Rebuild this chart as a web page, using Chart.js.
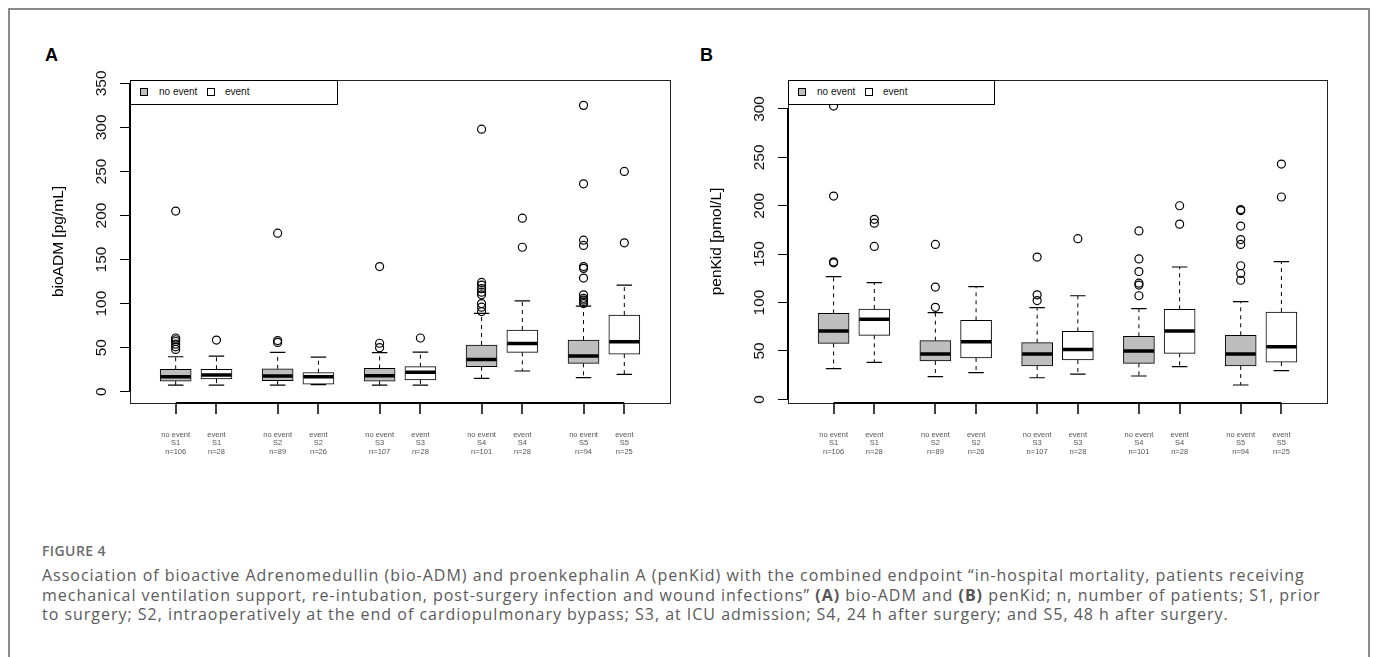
<!DOCTYPE html>
<html>
<head>
<meta charset="utf-8">
<script src="https://cdn.jsdelivr.net/npm/chart.js@4.4.0/dist/chart.umd.min.js"></script>
<style>
  body { margin: 0; background: #fff; width: 1373px; height: 657px; overflow: hidden; position: relative; font-family: "Liberation Sans", Arial, sans-serif; }
  .frame { position: absolute; left: 8px; top: 8px; width: 1358px; height: 700px; border: 2px solid #8c8c8c; border-bottom: none; }
  .letter { position: absolute; font: bold 18px "Liberation Sans", Arial, sans-serif; color: #000; }
  canvas { position: absolute; }
  .legend { position: absolute; top: 80px; height: 25px; border: 1.5px solid #000; background: #fff; box-sizing: border-box; font-size: 10px; color: #111; }
  .legend span { position: absolute; top: 5px; }
  .legend .sw { top: 7px; width: 6px; height: 6px; border: 1px solid #000; }
  .capt { position: absolute; left: 42px; top: 543px; font: 600 14px/16px "Open Sans", sans-serif; letter-spacing: 0.4px; color: #6b6b6b; }
  .cap { position: absolute; left: 42px; top: 566px; font: 16px/19.5px "Open Sans", sans-serif; letter-spacing: 0.98px; color: #5a5a5a; white-space: nowrap; }
  .cap b { font-weight: 700; color: #555; }
</style>
</head>
<body>
<div class="frame"></div>
<div class="letter" style="left:45px;top:45px">A</div>
<div class="letter" style="left:700px;top:45px">B</div>
<canvas id="chartA" width="640" height="403" style="left:40px;top:60px"></canvas>
<canvas id="chartB" width="639" height="403" style="left:698px;top:60px"></canvas>
<div class="legend" style="left:130px;width:208px">
  <span class="sw" style="left:9px;background:#bebebe"></span><span style="left:28px">no event</span>
  <span class="sw" style="left:76px;background:#fff"></span><span style="left:94px">event</span>
</div>
<div class="legend" style="left:788px;width:207px">
  <span class="sw" style="left:9px;background:#bebebe"></span><span style="left:28px">no event</span>
  <span class="sw" style="left:76px;background:#fff"></span><span style="left:94px">event</span>
</div>
<div class="capt">FIGURE 4</div>
<div class="cap">Association of bioactive Adrenomedullin (bio-ADM) and proenkephalin A (penKid) with the combined endpoint “in-hospital mortality, patients receiving<br>mechanical ventilation support, re-intubation, post-surgery infection and wound infections” <b>(A)</b> bio-ADM and <b>(B)</b> penKid; n, number of patients; S1, prior<br>to surgery; S2, intraoperatively at the end of cardiopulmonary bypass; S3, at ICU admission; S4, 24 h after surgery; and S5, 48 h after surgery.</div>

<script>
const stages = ['S1', 'S2', 'S3', 'S4', 'S5'];
const groupNames = ['no event', 'event'];
const nNoEvent = [106, 89, 107, 101, 94];
const nEvent = [28, 26, 28, 28, 25];

// per stage: [lower whisker, Q1, median, Q3, upper whisker]
const admNoEvent = [[7.6, 12.1, 17, 25.4, 39.7], [7.6, 12.5, 17.8, 26, 44.6], [7.6, 12.1, 18.2, 26.5, 44.3], [15.2, 28.4, 36.7, 53, 88.9], [15.9, 32.2, 40.5, 58.6, 97.2]];
const admEvent = [[7.6, 14.4, 18.9, 25.4, 40.5], [8, 8.5, 17, 21.6, 39.3], [7.6, 13.3, 22, 28.4, 45], [23.5, 44.6, 54.8, 70, 103.2], [19.7, 42.7, 56.7, 87, 121]];
const admNoEventOut = [[48, 51, 54, 57, 59, 61, 205], [56, 58, 180], [50, 55, 142], [91, 96, 100, 110, 113, 117, 121, 124, 298], [100, 102, 104, 106, 110, 129, 140, 142, 166, 172, 236, 325]];
const admEventOut = [[58.6], [], [61], [164, 197], [169, 250]];

const kidNoEvent = [[31.7, 57.8, 70.6, 88.8, 126.7], [23.4, 39.6, 46.8, 60.6, 89.5], [22.3, 34.4, 46.8, 58.5, 94.7], [24.1, 37.2, 49.9, 65.1, 93.6], [14.8, 34.4, 46.8, 66.1, 100.9]];
const kidEvent = [[38.2, 66.1, 82.6, 93.3, 120.5], [27.5, 42.7, 59.5, 81.6, 116.4], [26.1, 40.6, 51.6, 70.2, 107], [33.7, 47.5, 70.6, 93, 136.7], [29.6, 38.5, 54.4, 90.2, 142.2]];
const kidNoEventOut = [[141, 142, 210, 303], [95, 116, 160], [102, 108, 147], [107, 118, 120, 132, 145, 174], [123, 130, 138, 160, 165, 179, 195, 196]];
const kidEventOut = [[158, 182, 186], [], [166], [181, 200], [209, 243]];

const yTicksA = [0, 50, 100, 150, 200, 250, 300, 350];
const yTicksB = [0, 50, 100, 150, 200, 250, 300];

// boxes sit in pairs: 1,2 then 3.5,4.5 ...
const slot = (stage, g) => 1 + stage * 2.5 + g;
const slots = stages.flatMap((s, i) => [slot(i, 0), slot(i, 1)]);
const CAP = 0.19;
const HALF = 0.37;

function segments(boxSets, fn) {
    const pts = [];
    boxSets.forEach((boxes, g) => boxes.forEach((b, i) => {
        fn(slot(i, g), b).forEach((s) => {
            pts.push({ x: s[0], y: s[1] }, { x: s[2], y: s[3] }, { x: s[2], y: null });
        });
    }));
    return pts;
}

function outlierPoints(outSets) {
    return outSets.flatMap((outs, g) => outs.flatMap((vals, i) => vals.map((v) => ({ x: slot(i, g), y: v }))));
}

// R-style plot box, plus axis lines running from first to last tick and the x tick marks
const frame = {
    id: 'frame',
    afterDraw(chart) {
        const { ctx, chartArea: a, scales } = chart;
        const xs = scales.x.ticks.map((t) => scales.x.getPixelForValue(t.value));
        const ys = scales.y.ticks.map((t) => scales.y.getPixelForValue(t.value));
        ctx.save();
        ctx.setLineDash([]);
        ctx.strokeStyle = '#222';
        ctx.lineWidth = 1;
        ctx.strokeRect(a.left + 0.5, a.top + 0.5, a.right - a.left, a.bottom - a.top);
        ctx.strokeStyle = '#000';
        ctx.lineWidth = 2;
        ctx.beginPath();
        ctx.moveTo(xs[0], a.bottom);
        ctx.lineTo(xs[xs.length - 1], a.bottom);
        ctx.moveTo(a.left, ys[0]);
        ctx.lineTo(a.left, ys[ys.length - 1]);
        ctx.stroke();
        ctx.fillStyle = '#000';
        xs.forEach((px) => {
            ctx.fillRect(Math.round(px) - 0.75, a.bottom, 1.5, 11);
        });
        ctx.restore();
    },
};

function makeChart(id, noBox, evBox, noOut, evOut, yMin, yMax, yTicks, yTitle) {
    const boxSets = [noBox, evBox];
    new Chart(document.getElementById(id), {
        type: 'scatter',
        data: {
            datasets: [
                {
                    type: 'bar',
                    data: noBox.map((b, i) => ({ x: slot(i, 0), y: [b[1], b[3]] })),
                    backgroundColor: '#bebebe', borderColor: '#000', borderWidth: 1,
                    borderSkipped: false, barThickness: 31, grouped: false, order: 5,
                },
                {
                    type: 'bar',
                    data: evBox.map((b, i) => ({ x: slot(i, 1), y: [b[1], b[3]] })),
                    backgroundColor: '#fff', borderColor: '#000', borderWidth: 1,
                    borderSkipped: false, barThickness: 31, grouped: false, order: 5,
                },
                {
                    data: segments(boxSets, (x, b) => [[x, b[3], x, b[4]], [x, b[1], x, b[0]]]),
                    showLine: true, borderColor: '#000', borderWidth: 1, borderDash: [4, 4], pointRadius: 0, order: 6,
                },
                {
                    data: segments(boxSets, (x, b) => [[x - CAP, b[4], x + CAP, b[4]], [x - CAP, b[0], x + CAP, b[0]]]),
                    showLine: true, borderColor: '#000', borderWidth: 1.2, pointRadius: 0, order: 4,
                },
                {
                    data: segments(boxSets, (x, b) => [[x - HALF, b[2], x + HALF, b[2]]]),
                    showLine: true, borderColor: '#000', borderWidth: 3.5, borderCapStyle: 'butt', pointRadius: 0, order: 3,
                },
                {
                    data: outlierPoints([noOut, evOut]),
                    pointRadius: 4, pointStyle: 'circle', backgroundColor: 'rgba(0,0,0,0)',
                    borderColor: '#000', borderWidth: 1.2, order: 2,
                },
            ],
        },
        options: {
            responsive: false,
            animation: false,
            events: [],
            layout: { padding: { top: 20, right: 10, left: 0, bottom: 0 } },
            plugins: { legend: { display: false }, tooltip: { enabled: false } },
            scales: {
                x: {
                    type: 'linear', min: -0.12, max: 13.12, offset: false,
                    afterBuildTicks: (s) => { s.ticks = slots.map((v) => ({ value: v })); },
                    afterFit: (s) => { s.height = 60; },
                    grid: { display: false, drawTicks: false },
                    border: { display: false },
                    ticks: {
                        autoSkip: false, maxRotation: 0, minRotation: 0, padding: 28, align: 'center',
                        color: '#555', font: { size: 7.5, lineHeight: 1.1 },
                        callback: (v, i) => [groupNames[i % 2], stages[Math.floor(i / 2)], 'n=' + (i % 2 ? nEvent : nNoEvent)[Math.floor(i / 2)]],
                    },
                },
                y: {
                    type: 'linear', min: yMin, max: yMax,
                    afterBuildTicks: (s) => { s.ticks = yTicks.map((v) => ({ value: v })); },
                    afterFit: (s) => { s.width = 90; },
                    grid: { offset: false, drawOnChartArea: false, drawTicks: true, tickLength: 10, color: '#000' },
                    border: { display: false },
                    ticks: {
                        autoSkip: false, minRotation: 90, maxRotation: 90, crossAlign: 'center', padding: 5,
                        color: '#111', font: { size: 15.5 },
                    },
                    title: { display: true, text: yTitle, color: '#000', font: { size: 15.5 }, padding: { top: 9, bottom: 0 } },
                },
            },
        },
        plugins: [frame],
    });
}

makeChart('chartA', admNoEvent, admEvent, admNoEventOut, admEventOut, -12.8, 353.8, yTicksA, 'bioADM [pg/mL]');
makeChart('chartB', kidNoEvent, kidEvent, kidNoEventOut, kidEventOut, -3.8, 329.9, yTicksB, 'penKid [pmol/L]');
</script>
</body>
</html>
